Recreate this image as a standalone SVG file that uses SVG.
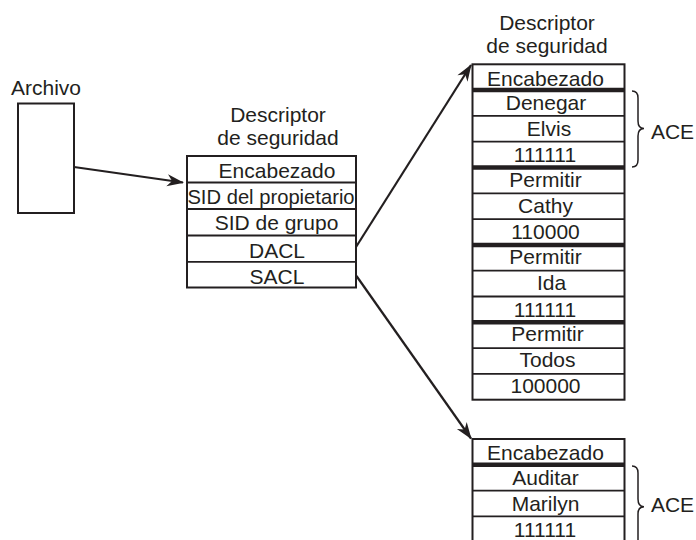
<svg xmlns="http://www.w3.org/2000/svg" width="696" height="540" viewBox="0 0 696 540">
<style>
  text { font-family: "Liberation Sans", Arial, sans-serif; font-size: 21px; fill: #231f20; text-anchor: middle; }
  .box { fill: #fff; stroke: #231f20; stroke-width: 2; }
  .sep { stroke: #231f20; stroke-width: 1.8; }
  .thick { stroke: #231f20; stroke-width: 4.5; }
  .conn { stroke: #231f20; stroke-width: 2.2; fill: none; }
  .brace { stroke: #231f20; stroke-width: 1.5; fill: none; }
</style>
<defs>
  <marker id="ah" markerUnits="userSpaceOnUse" viewBox="-17 -7 19 14" markerWidth="19" markerHeight="14" refX="0" refY="0" orient="auto">
    <path d="M1,0 L-16,-6 L-11,0 L-16,6 Z" fill="#231f20"/>
  </marker>
</defs>
<rect width="696" height="540" fill="#fff"/>

<g id="archivo">
  <text x="46" y="95">Archivo</text>
  <rect class="box" x="18" y="103.5" width="56" height="109.5"/>
</g>

<g id="descriptor1">
  <text x="278" y="122">Descriptor</text>
  <text x="278" y="145">de seguridad</text>
  <rect class="box" x="187" y="156" width="169" height="131.5"/>
  <line class="sep" x1="187" y1="182.5" x2="356" y2="182.5"/>
  <line class="sep" x1="187" y1="209" x2="356" y2="209"/>
  <line class="sep" x1="187" y1="235.5" x2="356" y2="235.5"/>
  <line class="sep" x1="187" y1="261.8" x2="356" y2="261.8"/>
  <text x="277" y="177.5">Encabezado</text>
  <text x="271" y="204.3" style="font-size:20.2px">SID del propietario</text>
  <text x="276.5" y="229.5">SID de grupo</text>
  <text x="277" y="257.5">DACL</text>
  <text x="277" y="284">SACL</text>
</g>

<g id="dacl">
  <text x="547" y="30">Descriptor</text>
  <text x="547" y="53">de seguridad</text>
  <rect class="box" x="472.5" y="64.3" width="152" height="335.4"/>
  <line class="thick" x1="472.5" y1="90.1" x2="624.5" y2="90.1"/>
  <line class="sep" x1="472.5" y1="115.9" x2="624.5" y2="115.9"/>
  <line class="sep" x1="472.5" y1="141.7" x2="624.5" y2="141.7"/>
  <line class="thick" x1="472.5" y1="167.5" x2="624.5" y2="167.5"/>
  <line class="sep" x1="472.5" y1="193.3" x2="624.5" y2="193.3"/>
  <line class="sep" x1="472.5" y1="219.1" x2="624.5" y2="219.1"/>
  <line class="thick" x1="472.5" y1="244.9" x2="624.5" y2="244.9"/>
  <line class="sep" x1="472.5" y1="270.7" x2="624.5" y2="270.7"/>
  <line class="sep" x1="472.5" y1="296.5" x2="624.5" y2="296.5"/>
  <line class="thick" x1="472.5" y1="322.3" x2="624.5" y2="322.3"/>
  <line class="sep" x1="472.5" y1="348.1" x2="624.5" y2="348.1"/>
  <line class="sep" x1="472.5" y1="373.9" x2="624.5" y2="373.9"/>
  <text x="545.5" y="86">Encabezado</text>
  <text x="546" y="110">Denegar</text>
  <text x="549" y="136">Elvis</text>
  <text x="545" y="162.3">111111</text>
  <text x="545.5" y="187">Permitir</text>
  <text x="545.5" y="212.8">Cathy</text>
  <text x="545.5" y="239.3">110000</text>
  <text x="545.5" y="263.5">Permitir</text>
  <text x="551.5" y="290">Ida</text>
  <text x="545" y="316.8">111111</text>
  <text x="547.5" y="341">Permitir</text>
  <text x="547.5" y="367">Todos</text>
  <text x="545.5" y="392.5">100000</text>
  <path class="brace" d="M632,91 Q638,91 638,98 L638,121 Q638,128.5 644,128.5 Q638,128.5 638,136 L638,160 Q638,167 632,167"/>
  <text x="672.5" y="138.5">ACE</text>
</g>

<g id="sacl">
  <rect class="box" x="472.5" y="439" width="152" height="106"/>
  <line class="thick" x1="472.5" y1="464.8" x2="624.5" y2="464.8"/>
  <line class="sep" x1="472.5" y1="490.6" x2="624.5" y2="490.6"/>
  <line class="sep" x1="472.5" y1="516.4" x2="624.5" y2="516.4"/>
  <text x="545.5" y="460">Encabezado</text>
  <text x="545.5" y="485">Auditar</text>
  <text x="545.5" y="510.7">Marilyn</text>
  <text x="545" y="537">111111</text>
  <path class="brace" d="M632,466 Q638,466 638,473 L638,499 Q638,506.7 644,506.7 Q638,506.7 638,514 L638,540 Q638,547 632,547"/>
  <text x="672.5" y="511.5">ACE</text>
</g>

<g id="connectors">
  <line class="conn" x1="74" y1="167" x2="183" y2="182.5" marker-end="url(#ah)"/>
  <line class="conn" x1="356" y1="247" x2="471" y2="65" marker-end="url(#ah)"/>
  <line class="conn" x1="356.5" y1="276" x2="471" y2="438.5" marker-end="url(#ah)"/>
</g>
</svg>
